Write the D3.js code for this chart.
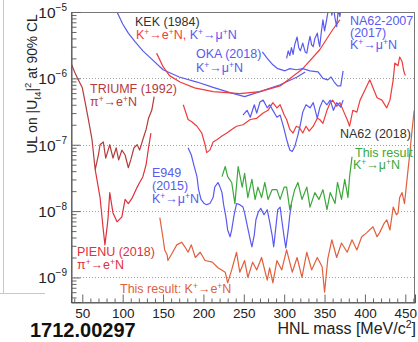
<!DOCTYPE html>
<html lang="en">
<head>
<meta charset="UTF-8">
<title>HNL limits</title>
<script src="https://d3js.org/d3.v7.min.js"></script>
<style>
  body { margin: 0; background: #fff; }
  svg { display: block; font-family: "Liberation Sans", Arial, sans-serif; }
</style>
</head>
<body>
<script>
// tick values
var massTicks = [50, 100, 150, 200, 250, 300, 350, 400, 450];
var decadeTicks = [1e-9, 1e-8, 1e-7, 1e-6, 1e-5];

// [HNL mass MeV, UL on |U|^2]
var kekMu = [[93,1.0e-5],[100,6.6e-6],[107,4.8e-6],[115,3.6e-6],[125,2.6e-6],[135,2.0e-6],[150,1.35e-6],[170,1.05e-6],[192,8.8e-7],[212,7.3e-7],[233,6.1e-7],[251,5.3e-7],[270,6.3e-7],[295,8.0e-7],[316,1.05e-6],[326,1.25e-6]];
var kekE = [[142,2.4e-6],[146,1.9e-6],[150,1.5e-6],[158,1.1e-6],[171,8.8e-7],[189,7.2e-7],[212,6.3e-7],[245,5.9e-7],[270,6.3e-7],[295,7.7e-7],[323,1.4e-6],[344,2.7e-6],[360,5.4e-6],[369,7.6e-6]];
var okaMu = [[273,2.5e-6],[279,2.0e-6],[286,1.6e-6],[292,1.4e-6],[301,1.3e-6],[307,1.4e-6],[315,1.35e-6],[323,1.4e-6],[332,1.3e-6],[342,1.25e-6],[348,1.0e-6],[354,9.5e-7],[358,1.05e-6],[362,8.8e-7],[366,7.7e-7],[370,7.7e-7],[373,1.3e-6]];
var na62007Mu = [[303,2.0e-6],[305,2.6e-6],[307,2.2e-6],[309,2.9e-6],[311,2.3e-6],[313,3.2e-6],[316,4.2e-6],[318,2.9e-6],[320,2.6e-6],[323,3.4e-6],[326,2.5e-6],[328,2.4e-6],[330,3.3e-6],[332,4.3e-6],[334,3.2e-6],[336,3.0e-6],[338,4.0e-6],[341,4.8e-6],[343,3.4e-6],[344,3.0e-6],[346,5.0e-6],[348,7.6e-6],[350,5.2e-6],[352,7.0e-6],[354,9.7e-6],[357,1.3e-5],[359,9.0e-6],[361,1.2e-5],[363,8.0e-6],[365,6.0e-6],[367,1.1e-5],[369,8.5e-6],[371,1.3e-5]];
var triumfE = [[36,1.7e-6],[41,1.2e-6],[45,9.5e-7],[50,7.2e-7],[53,4.7e-7],[57,2.6e-7],[62,1.2e-7],[66,4.2e-8],[70,7.1e-8],[72,1.0e-7],[76,1.1e-7],[79,6.3e-8],[82,8.3e-8],[84,1.0e-7],[88,6.3e-8],[92,9.0e-8],[95,5.9e-8],[99,8.3e-8],[103,7.0e-8],[107,4.5e-8],[110,5.9e-8],[114,9.0e-8],[118,1.0e-7],[121,8.3e-8],[125,1.2e-7],[129,1.7e-7],[132,2.5e-7],[136,3.3e-7],[139,5.3e-7]];
var pienuE = [[66,4.2e-8],[72,1.6e-8],[76,5.2e-9],[78,3.1e-9],[81,6.2e-9],[82,8.2e-9],[84,1.9e-8],[88,9.4e-9],[93,6.9e-9],[99,8.2e-9],[103,1.5e-8],[107,1.3e-8],[112,1.6e-8],[118,2.3e-8],[121,2.7e-8],[125,3.3e-8],[129,5.0e-8],[132,9.0e-8],[135,1.5e-7]];
var na62E = [[175,4.0e-7],[181,2.4e-7],[186,2.2e-7],[192,1.9e-7],[198,1.5e-7],[202,1.0e-7],[204,7.6e-8],[208,8.3e-8],[212,1.1e-7],[217,1.2e-7],[223,1.35e-7],[229,1.5e-7],[235,1.7e-7],[241,1.9e-7],[249,2.0e-7],[258,2.4e-7],[266,2.5e-7],[274,3.0e-7],[280,3.3e-7],[286,4.3e-7],[291,3.6e-7],[295,4.0e-7],[300,2.8e-7],[303,2.4e-7],[307,1.7e-7],[311,1.5e-7],[315,1.9e-7],[319,1.8e-7],[323,1.5e-7],[327,1.9e-7],[331,1.6e-7],[336,1.9e-7],[341,2.5e-7],[344,2.4e-7],[348,2.1e-7],[353,3.3e-7],[357,4.3e-7],[360,4.7e-7],[365,3.8e-7],[369,4.3e-7],[374,3.1e-7],[378,2.4e-7],[381,1.9e-7],[385,3.3e-7],[390,3.1e-7],[394,4.7e-7],[400,6.7e-7],[406,9.5e-7],[410,7.2e-7],[415,5.1e-7],[421,4.7e-7],[427,3.6e-7],[431,4.7e-7],[435,9.5e-7],[437,1.7e-6],[441,1.55e-6],[443,2.1e-6],[446,1.8e-6],[448,1.3e-6],[450,1.1e-6]];
var na62Mu = [[249,2.8e-7],[254,3.3e-7],[258,2.6e-7],[263,4.0e-7],[266,3.0e-7],[270,4.4e-7],[274,4.7e-7],[279,3.6e-7],[282,4.0e-7],[286,3.3e-7],[291,2.6e-7],[295,2.8e-7],[300,1.7e-7],[303,1.2e-7],[307,8.3e-8],[310,7.9e-8],[313,9.3e-8],[317,1.4e-7],[320,2.0e-7],[323,3.1e-7],[327,4.0e-7],[332,3.6e-7],[336,4.3e-7],[341,2.5e-7],[344,3.6e-7],[348,4.7e-7],[353,4.0e-7],[357,4.7e-7],[361,3.3e-7],[365,4.3e-7],[370,3.7e-7],[373,4.7e-7]];
var e949Mu = [[181,9.0e-8],[185,7.0e-8],[188,5.0e-8],[192,3.3e-8],[194,2.1e-8],[197,1.5e-8],[201,1.3e-8],[204,1.25e-8],[208,1.3e-8],[212,1.6e-8],[214,2.3e-8],[218,2.7e-8],[220,2.4e-8],[223,1.9e-8],[225,1.25e-8],[228,7.9e-9],[230,5.2e-9],[233,4.1e-9],[235,5.2e-9],[238,8.8e-9],[241,1.3e-8],[245,1.25e-8],[249,1.15e-8],[251,9.4e-9],[255,5.5e-9],[258,3.7e-9],[260,2.9e-9],[263,4.4e-9],[265,7.4e-9],[268,9.7e-9],[271,1.1e-8],[275,8.8e-9],[279,1.05e-8],[282,6.9e-9],[285,4.4e-9],[287,2.9e-9],[290,6.2e-9],[292,1.05e-8],[295,1.15e-8],[297,7.4e-9],[300,4.0e-9],[302,2.8e-9],[305,5.2e-9],[307,8.8e-9],[309,1.25e-8]];
var thisMu = [[223,3.3e-8],[227,4.7e-8],[230,3.3e-8],[235,2.7e-8],[239,1.3e-8],[243,4.7e-8],[248,2.3e-8],[251,3.7e-8],[255,1.6e-8],[260,3.0e-8],[264,1.5e-8],[267.5,2.3e-8],[272,1.6e-8],[276,2.7e-8],[280,1.5e-8],[285,2.1e-8],[291,2.1e-8],[295,1.5e-8],[300,2.3e-8],[303,2.3e-8],[307,1.05e-8],[313,2.1e-8],[317,2.7e-8],[322,1.5e-8],[328,2.3e-8],[332,1.15e-8],[338,1.9e-8],[343,1.5e-8],[348,2.1e-8],[353,1.05e-8],[357,1.9e-8],[363,1.3e-8],[366,2.7e-8],[371,1.5e-8],[375,3.0e-8],[379,1.6e-8],[381,3.3e-8],[384,6.6e-8]];
var thisE = [[146,8.0e-9],[150,3.9e-9],[152,2.6e-9],[155,2.2e-9],[156,1.8e-9],[161,2.3e-9],[167,3.1e-9],[173,3.4e-9],[177,2.9e-9],[181,2.4e-9],[185,3.1e-9],[190,2.0e-9],[196,2.4e-9],[202,1.8e-9],[211,1.7e-9],[218,1.4e-9],[227,1.2e-9],[230,8.3e-10],[235,1.3e-9],[241,2.4e-9],[245,1.2e-9],[251,1.8e-9],[255,1.0e-9],[261,1.7e-9],[266,1.3e-9],[272,2.0e-9],[279,9.1e-10],[282,1.4e-9],[286,8.3e-10],[291,1.8e-9],[297,1.3e-9],[303,2.6e-9],[310,1.2e-9],[316,2.0e-9],[322,1.0e-9],[328,2.4e-9],[334,1.3e-9],[341,2.0e-9],[347,1.45e-9],[350,6.0e-10],[354,1.9e-9],[359,3.7e-9],[365,2.0e-9],[371,3.3e-9],[378,2.4e-9],[384,3.7e-9],[390,2.6e-9],[396,4.1e-9],[402,4.7e-9],[410,5.8e-9],[415,4.1e-9],[418,4.7e-9],[424,6.6e-9],[427,7.4e-9],[431,5.2e-9],[435,1.15e-8],[439,8.8e-9],[441,9.4e-9],[443,1.6e-8],[446,1.9e-8],[449,1.3e-8],[453,3.8e-8],[456,8.3e-8],[458,1.5e-7],[461,3.3e-7]];

var blue = "#5a5af0", red = "#f03c3c", darkRed = "#b43c3c", pienuRed = "#e0303c", green = "#3aa83a", orange = "#e0603c";

var W = 418, H = 342;
var plotL = 71, plotR = 415, plotT = 12, plotB = 302;

var svg = d3.select("body").append("svg")
    .attr("width", W)
    .attr("height", H);

var x = d3.scaleLinear().domain([36, 462]).range([plotL, plotR]);
var y = d3.scaleLog().domain([4.27e-10, 1e-5]).range([plotB, plotT]);

// slide leftovers
svg.append("line").attr("x1", 3.5).attr("x2", 3.5).attr("y1", 0).attr("y2", 293)
    .attr("stroke", "#c8c8c8");
svg.append("line").attr("x1", 0).attr("x2", 45).attr("y1", 293.5).attr("y2", 293.5)
    .attr("stroke", "#c8c8c8");

// dotted decade lines
svg.selectAll(".grid").data(decadeTicks.slice(0, 4)).enter().append("line")
    .attr("x1", plotL).attr("x2", plotR)
    .attr("y1", function(d) { return Math.round(y(d)) + 0.5; })
    .attr("y2", function(d) { return Math.round(y(d)) + 0.5; })
    .attr("stroke", "#a0a0a0")
    .attr("stroke-dasharray", "1,2");

// curves
svg.append("clipPath").attr("id", "plotclip").append("rect")
    .attr("x", plotL).attr("y", plotT).attr("width", plotR - plotL).attr("height", plotB - plotT);

var line = d3.line().x(function(d) { return x(d[0]); }).y(function(d) { return y(d[1]); });

var curves = [
    [kekMu, blue], [kekE, red], [okaMu, blue], [na62007Mu, blue],
    [triumfE, darkRed], [pienuE, pienuRed], [na62E, red], [na62Mu, blue],
    [e949Mu, blue], [thisMu, green], [thisE, orange]
];
var g = svg.append("g").attr("clip-path", "url(#plotclip)");
curves.forEach(function(c) {
    g.append("path")
        .attr("d", line(c[0]))
        .attr("fill", "none")
        .attr("stroke", c[1])
        .attr("stroke-width", 1.2)
        .attr("stroke-linejoin", "round");
});

// frame
svg.append("rect")
    .attr("x", plotL + 0.5).attr("y", plotT + 0.5)
    .attr("width", plotR - plotL - 1).attr("height", plotB - plotT)
    .attr("fill", "none").attr("stroke", "#777");

// x axis: majors and minors pointing in
var minorMass = d3.range(40, 461, 10).filter(function(m) { return m % 50 != 0; });
svg.append("g").attr("transform", "translate(0," + (plotB + 0.5) + ")")
    .call(d3.axisBottom(x).tickValues(minorMass).tickSize(-4).tickFormat(""))
    .call(function(a) { a.select(".domain").remove(); a.selectAll("line").attr("stroke", "#666"); });
var xa = svg.append("g").attr("transform", "translate(0," + (plotB + 0.5) + ")")
    .call(d3.axisBottom(x).tickValues(massTicks).tickSize(-8).tickPadding(0))
    .call(function(a) { a.select(".domain").attr("stroke", "#555"); a.selectAll("line").attr("stroke", "#666"); });
xa.selectAll("text")
    .attr("y", 15)
    .attr("dy", 0)
    .attr("font-size", 13.5)
    .attr("font-family", "Liberation Sans, Arial, sans-serif")
    .attr("fill", "#222");

// y axis: decades and 2..9 minors
var minorUL = [];
decadeTicks.slice(0, 4).forEach(function(d) {
    [2, 3, 4, 5, 6, 7, 8, 9].forEach(function(k) { minorUL.push(d * k); });
});
minorUL.push(5e-10, 6e-10, 7e-10, 8e-10, 9e-10);
svg.append("g").attr("transform", "translate(" + (plotL + 0.5) + ",0)")
    .call(d3.axisLeft(y).tickValues(minorUL).tickSize(-5).tickFormat(""))
    .call(function(a) { a.select(".domain").remove(); a.selectAll("line").attr("stroke", "#666"); });
svg.append("g").attr("transform", "translate(" + (plotL + 0.5) + ",0)")
    .call(d3.axisLeft(y).tickValues(decadeTicks).tickSize(-9).tickFormat(""))
    .call(function(a) { a.select(".domain").attr("stroke", "#555"); a.selectAll("line").attr("stroke", "#666"); });

var ylab = svg.selectAll(".ylab").data(decadeTicks).enter().append("text")
    .attr("x", 67)
    .attr("y", function(d) { return y(d) + 6; })
    .attr("text-anchor", "end")
    .attr("font-size", 15.5)
    .attr("fill", "#222")
    .text("10");
ylab.append("tspan")
    .attr("dy", -7)
    .attr("font-size", 10)
    .text(function(d) { return "\u2212" + Math.round(-Math.log10(d)); });

// axis titles
var yt = svg.append("text")
    .attr("transform", "translate(37,84) rotate(-90)")
    .attr("text-anchor", "middle")
    .attr("font-size", 13.8)
    .attr("fill", "#222");
yt.append("tspan").text("UL on |U");
yt.append("tspan").attr("dy", 4).attr("font-size", 9.5).text("\u21134");
yt.append("tspan").attr("dy", -4).text("|");
yt.append("tspan").attr("dy", -6).attr("font-size", 9.5).text("2");
yt.append("tspan").attr("dy", 6).text(" at 90% CL");

var xt = svg.append("text")
    .attr("x", 416).attr("y", 334)
    .attr("text-anchor", "end")
    .attr("font-size", 16)
    .attr("fill", "#222");
xt.append("tspan").text("HNL mass [MeV/c");
xt.append("tspan").attr("dy", -6).attr("font-size", 10.5).text("2");
xt.append("tspan").attr("dy", 6).text("]");

svg.append("text")
    .attr("x", 30).attr("y", 337)
    .attr("font-size", 20)
    .attr("font-weight", "bold")
    .attr("fill", "#111")
    .text("1712.00297");

// curve labels; "^+" marks a superscript plus
function label(px, py, parts) {
    var t = svg.append("text").attr("x", px).attr("y", py).attr("font-size", 12.5);
    parts.forEach(function(p) {
        p[0].split(/(\^\+)/).forEach(function(s) {
            if (!s) return;
            if (s == "^+") {
                t.append("tspan").attr("fill", p[1]).attr("font-size", 8.5)
                    .attr("baseline-shift", "45%").text("+");
            } else {
                t.append("tspan").attr("fill", p[1]).text(s);
            }
        });
    });
}
label(135, 26, [["KEK (1984)", "#333"]]);
label(136, 39, [["K^+\u2192e^+N,", red], [" K^+\u2192\u03bc^+N", blue]]);
label(196, 58, [["OKA (2018)", blue]]);
label(196, 72, [["K^+\u2192\u03bc^+N", blue]]);
label(350, 25, [["NA62-2007", blue]]);
label(350, 37, [["(2017)", blue]]);
label(350, 49, [["K^+\u2192\u03bc^+N", blue]]);
label(90, 93, [["TRIUMF (1992)", darkRed]]);
label(90, 106, [["\u03c0^+\u2192e^+N", darkRed]]);
label(340, 138, [["NA62 (2018)", "#333"]]);
label(355, 157, [["This result", green]]);
label(353, 169, [["K^+\u2192\u03bc^+N", green]]);
label(152, 177, [["E949", blue]]);
label(152, 190, [["(2015)", blue]]);
label(152, 203, [["K^+\u2192\u03bc^+N", blue]]);
label(77, 256, [["PIENU (2018)", pienuRed]]);
label(77, 269, [["\u03c0^+\u2192e^+N", pienuRed]]);
label(120, 293, [["This result: K^+\u2192e^+N", orange]]);
</script>
</body>
</html>
